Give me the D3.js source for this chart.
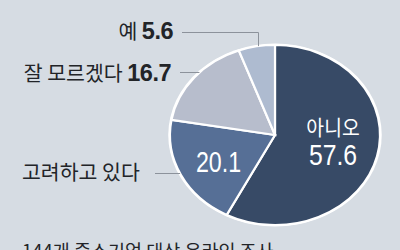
<!DOCTYPE html>
<html><head><meta charset="utf-8">
<script src="https://cdn.jsdelivr.net/npm/d3@7"></script>
<style>
html,body{margin:0;padding:0;background:#d6dce3;}
svg{display:block;}
</style></head>
<body>
<svg id="c" width="400" height="250"></svg>
<script>
const categories = ["아니오", "고려하고 있다", "잘 모르겠다", "예"];
const values = [57.6, 20.1, 16.7, 5.6];
const colors = ["#374a66", "#566f96", "#b7bdcc", "#aebbd0"];
const note = "144개 중소기업 대상 온라인 조사";

const svg = d3.select("#c");
const W = 400, H = 250;
svg.append("rect").attr("width", W).attr("height", H).attr("fill", "#d6dce3");

const cx = 275, cy = 135, rx = 105, ry = 90;
const pie = d3.pie().sort(null).value(d => d)(values);
const arc = d3.arc().innerRadius(0).outerRadius(ry);

const g = svg.append("g").attr("transform", `translate(${cx},${cy}) scale(${rx/ry},1)`);
g.append("ellipse").attr("rx", ry + 1.5).attr("ry", ry + 1.5).attr("fill", "#ffffff");
g.selectAll("path").data(pie).join("path")
  .attr("d", arc)
  .attr("fill", (d, i) => colors[i])
  .attr("stroke", "#ffffff")
  .attr("stroke-width", 2.2)
  .attr("vector-effect", "non-scaling-stroke");

const edgeY = x => cy - ry * Math.sqrt(Math.max(0, 1 - ((x - cx) / rx) ** 2));
const edgeX = y => cx - rx * Math.sqrt(Math.max(0, 1 - ((y - cy) / ry) ** 2));

const lineColor = "#8c929b";
svg.append("path").attr("fill", "none").attr("stroke", lineColor).attr("stroke-width", 1)
  .attr("d", `M182,32.5H258.5V${edgeY(258.5)}`);
svg.append("line").attr("stroke", lineColor).attr("stroke-width", 1)
  .attr("x1", 180).attr("x2", edgeX(72.5)).attr("y1", 72.5).attr("y2", 72.5);
svg.append("line").attr("stroke", lineColor).attr("stroke-width", 1)
  .attr("x1", 155).attr("x2", edgeX(173.5)).attr("y1", 173.5).attr("y2", 173.5);

const kr = "'Noto Sans CJK KR', sans-serif";
const num = "'Liberation Sans', Arial, sans-serif";
const ink = "#222428";

function outLabel(x, y, label, value) {
  const t = svg.append("text").attr("x", x).attr("y", y).attr("text-anchor", "end")
    .attr("fill", ink);
  t.append("tspan").attr("font-family", kr).attr("font-size", 20.5).text(label + " ");
  t.append("tspan").attr("font-family", num).attr("font-size", 23.5).attr("font-weight", "bold")
    .attr("letter-spacing", -0.5).text(value.toFixed(1));
}
outLabel(173, 38.5, categories[3], values[3]);
outLabel(171, 80.5, categories[2], values[2]);

svg.append("text").attr("x", 22).attr("y", 179.5).attr("font-family", kr).attr("font-size", 20.5)
  .attr("fill", ink).text(categories[1]);

function inText(x, y, txt, size, family, sx) {
  svg.append("text").attr("transform", `translate(${x},${y}) scale(${sx},1)`)
    .attr("text-anchor", "middle").attr("font-family", family).attr("font-size", size)
    .attr("fill", "#ffffff").text(txt);
}
inText(218.5, 172, values[1].toFixed(1), 29, num, 0.8);
inText(333, 134.5, categories[0], 21, kr, 0.92);
inText(333, 165, values[0].toFixed(1), 29.5, num, 0.84);

svg.append("text").attr("x", 22).attr("y", 258).attr("font-family", kr).attr("font-size", 18.5)
  .attr("fill", ink).text(note);
</script>
</body></html>
